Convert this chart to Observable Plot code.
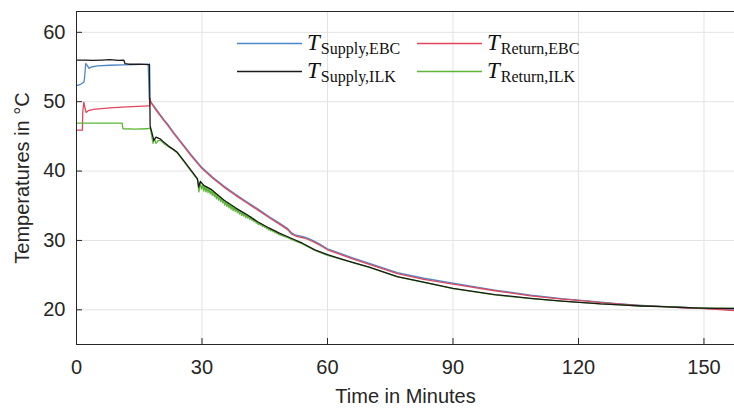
<!DOCTYPE html>
<html><head><meta charset="utf-8">
<script src="https://cdn.jsdelivr.net/npm/d3@7"></script>
<script src="https://cdn.jsdelivr.net/npm/@observablehq/plot@0.6"></script>
<style>body{margin:0;background:#fff;} #chart{position:relative;width:734px;height:408px;}</style>
</head><body><div id="chart"></div>
<script>
const xTicks = [0, 30, 60, 90, 120, 150];
const yTicks = [20, 30, 40, 50, 60];
const xDomain = [0, 157.3];
const yDomain = [15, 63];
const xLabel = "Time in Minutes";
const yLabel = "Temperatures in °C";

const seriesKeys = ["Supply,EBC", "Return,EBC", "Supply,ILK", "Return,ILK"];
const seriesColors = ["#4a88c8", "#e0475d", "#1a1a1a", "#5cb536"];

const supplyEbcTime = [0, 1.0, 1.8, 1.95, 2.2, 2.6, 3.0, 3.5, 5, 8, 11, 14, 17.0, 17.15, 17.4, 17.8, 19, 20, 21, 22, 23.3, 25, 27.4, 30, 32.5, 35.3, 38, 40.5, 43.3, 46, 48.5, 50.4, 51.5, 52.5, 54.4, 55.5, 56.8, 58.5, 60, 63.2, 66, 70, 76.7, 83, 90, 100, 108.6, 116, 122, 125.3, 130, 135, 140, 145, 149, 153, 157.3];
const supplyEbcTemp = [52.3, 52.5, 52.85, 53.6, 55.5, 55.2, 54.8, 55.0, 55.15, 55.25, 55.3, 55.35, 55.4, 55.3, 50.3, 49.95, 48.95, 48.15, 47.35, 46.6, 45.5, 44.2, 42.35, 40.5, 39.15, 37.8, 36.65, 35.65, 34.55, 33.45, 32.5, 31.75, 31.05, 30.75, 30.5, 30.25, 29.9, 29.35, 28.8, 28.1, 27.5, 26.7, 25.35, 24.55, 23.85, 22.85, 22.1, 21.6, 21.3, 21.1, 20.85, 20.65, 20.5, 20.35, 20.25, 20.1, 19.98];

const returnEbcTime = [0, 1.4, 1.5, 1.75, 2.0, 2.3, 2.8, 4, 8, 12, 17.3, 17.45, 17.55, 17.8, 19, 20, 21, 22, 23.3, 25, 27.4, 30, 32.5, 35.3, 38, 40.5, 43.3, 46, 48.5, 50.4, 51.5, 52.5, 54.4, 55.5, 56.8, 58.5, 60, 63.2, 66, 70, 76.7, 83, 90, 100, 108.6, 116, 122, 125.3, 130, 135, 140, 145, 149, 153, 157.3];
const returnEbcTemp = [45.9, 45.9, 48.5, 49.95, 49.2, 48.45, 48.7, 48.9, 49.1, 49.25, 49.4, 49.4, 50.5, 49.85, 48.8, 48.0, 47.2, 46.45, 45.35, 44.05, 42.2, 40.35, 39.0, 37.65, 36.5, 35.5, 34.4, 33.3, 32.35, 31.6, 30.9, 30.6, 30.35, 30.1, 29.75, 29.2, 28.65, 27.95, 27.35, 26.55, 25.2, 24.4, 23.7, 22.75, 22.0, 21.55, 21.25, 21.05, 20.8, 20.6, 20.45, 20.3, 20.2, 20.05, 19.9];

const supplyIlkTime = [0, 2, 4, 6, 8, 10, 11.3, 11.6, 12.5, 15, 17.2, 17.45, 17.6, 18.0, 18.5, 19.0, 20.1, 21, 22, 23, 24.1, 25.5, 27.4, 28.9, 29.2, 29.6, 30.5, 32.1, 33.5, 35.3, 38, 40.5, 43.3, 46, 48.5, 51.2, 54, 57, 60, 63.2, 66, 70, 76.7, 83, 90, 100, 108.6, 116, 122, 125.3, 130, 135, 140, 145, 149, 153, 157.3];
const supplyIlkTemp = [56.0, 56.0, 55.95, 56.0, 56.05, 55.95, 56.0, 55.5, 55.4, 55.4, 55.35, 55.4, 46.5, 45.6, 44.4, 44.9, 44.6, 44.1, 43.6, 43.2, 42.7, 41.6, 40.1, 38.9, 37.7, 38.5, 37.9, 37.4, 36.7, 35.8, 34.7, 33.8, 32.7, 31.8, 31.05, 30.35, 29.6, 28.65, 27.95, 27.35, 26.85, 26.15, 24.8, 24.0, 23.1, 22.2, 21.65, 21.25, 21.0, 20.85, 20.7, 20.55, 20.45, 20.33, 20.25, 20.22, 20.2];

const returnIlkTime = [0, 5, 10.9, 11.1, 14, 17.0, 17.4, 17.7, 18.0, 18.3,
  18.6, 19.0, 19.5, 20.1, 21, 22, 23, 24.1, 25.5, 27.4,
  28.5, 29.0, 29.25, 29.6, 29.9, 30.2, 30.45, 30.7, 30.95, 31.2,
  31.45, 31.7, 31.95, 32.2, 32.45, 32.7, 32.95, 33.2, 33.45, 33.7,
  33.95, 34.2, 34.45, 34.7, 34.95, 35.2, 35.45, 35.7, 35.95, 36.2,
  36.45, 36.7, 36.95, 37.2, 37.45, 37.7, 37.95, 38.2, 38.45, 38.7,
  38.95, 39.2, 39.45, 39.7, 39.95, 40.2, 40.45, 40.7, 40.95, 41.2,
  41.45, 41.7, 41.95, 42.2, 42.45, 42.7, 42.95, 43.2, 43.45, 43.7,
  43.95, 44.2, 44.45, 44.7, 44.95, 45.2, 45.45, 45.7, 45.95, 46.2,
  46.45, 46.7, 46.95, 47.2, 47.45, 47.7, 47.95, 48.2, 48.45, 48.7,
  48.95, 49.2, 49.45, 49.7, 50.0, 50.5, 51.2, 54, 57, 60,
  63.2, 66, 70, 76.7, 83, 90, 100, 108.6, 116, 122,
  125.3, 130, 135, 140, 145, 149, 153, 157.3];
const returnIlkTemp = [46.9, 46.9, 46.9, 46.1, 46.05, 46.1, 46.2, 46.0, 45.0, 44.0,
  44.7, 44.0, 44.4, 44.4, 43.9, 43.5, 43.1, 42.6, 41.5, 40.0,
  39.1, 38.7, 37.0, 38.3, 37.4, 38.0, 37.1, 37.8, 37.0, 37.7,
  36.9, 37.5, 36.7, 37.3, 36.5, 37.1, 36.3, 36.8, 36.0, 36.6,
  35.8, 36.3, 35.6, 36.1, 35.4, 35.8, 35.1, 35.6, 34.9, 35.4,
  34.7, 35.2, 34.5, 35.0, 34.3, 34.8, 34.2, 34.6, 34.0, 34.4,
  33.8, 34.2, 33.6, 34.0, 33.5, 33.9, 33.3, 33.7, 33.2, 33.5,
  33.0, 33.4, 32.9, 33.1, 32.7, 32.9, 32.5, 32.7, 32.3, 32.5,
  32.2, 32.4, 32.0, 32.2, 31.9, 32.0, 31.7, 31.8, 31.5, 31.7,
  31.4, 31.5, 31.3, 31.4, 31.1, 31.2, 31.0, 31.0, 30.8, 30.9,
  30.7, 30.8, 30.6, 30.6, 30.5, 30.4, 30.2, 29.5, 28.55, 27.85,
  27.3, 26.8, 26.1, 24.75, 23.95, 23.05, 22.15, 21.6, 21.25, 21.0,
  20.85, 20.7, 20.55, 20.45, 20.35, 20.28, 20.25, 20.22];

function zip(times, temps, key) {
  return times.map((t, i) => ({t, v: temps[i], key}));
}
const seriesData = [
  zip(supplyEbcTime, supplyEbcTemp, seriesKeys[0]),
  zip(returnEbcTime, returnEbcTemp, seriesKeys[1]),
  zip(returnIlkTime, returnIlkTemp, seriesKeys[3]),
  zip(supplyIlkTime, supplyIlkTemp, seriesKeys[2])
];
const colorOf = Object.fromEntries(seriesKeys.map((k, i) => [k, seriesColors[i]]));

const axisColor = "#262626";
const gridColor = "#e3e3e3";

const plot = Plot.plot({
  width: 734,
  height: 408,
  marginLeft: 76,
  marginRight: 0,
  marginTop: 11,
  marginBottom: 64,
  style: {fontFamily: "'Liberation Sans', Arial, sans-serif", fontSize: "20px", color: axisColor, background: "#fff"},
  x: {domain: xDomain},
  y: {domain: yDomain},
  marks: [
    Plot.gridX(xTicks, {stroke: gridColor, strokeOpacity: 1}),
    Plot.gridY(yTicks, {stroke: gridColor, strokeOpacity: 1}),
    ...seriesData.map(d => Plot.line(d, {x: "t", y: "v", stroke: colorOf[d[0].key], strokeWidth: 1.3, clip: true})),
    Plot.ruleY([yDomain[0]], {stroke: axisColor}),
    Plot.ruleY([yDomain[1]], {stroke: axisColor}),
    Plot.ruleX([xDomain[0]], {stroke: axisColor}),
    Plot.axisX(xTicks, {tickSize: 6, dy: -6, tickFormat: () => "", label: null, stroke: axisColor}),
    Plot.axisY(yTicks, {tickSize: 6, dx: 6, tickFormat: () => "", label: null, stroke: axisColor}),
    Plot.axisX(xTicks, {tickSize: 0, tickPadding: 15, fill: axisColor, label: xLabel, labelAnchor: "center", labelArrow: "none", labelOffset: 58}),
    Plot.axisY(yTicks, {tickSize: 0, tickPadding: 11, fill: axisColor, label: yLabel, labelAnchor: "center", labelArrow: "none", labelOffset: 62})
  ]
});
document.getElementById("chart").appendChild(plot);

// Legend (LaTeX-like labels), drawn into the SVG
const legendItems = [
  {key: seriesKeys[0], col: 0, row: 0},
  {key: seriesKeys[1], col: 1, row: 0},
  {key: seriesKeys[2], col: 0, row: 1},
  {key: seriesKeys[3], col: 1, row: 1}
];
const svg = d3.select(plot.tagName.toLowerCase() === "svg" ? plot : plot.querySelector("svg"));
const lg = svg.append("g").attr("class", "legend").attr("text-anchor", "start");
const colX = [237, 417], rowY = [50, 78];
legendItems.forEach(it => {
  const x0 = colX[it.col], yb = rowY[it.row];
  lg.append("line").attr("x1", x0).attr("x2", x0 + 65).attr("y1", yb - 6.5).attr("y2", yb - 6.5)
    .attr("stroke", colorOf[it.key]).attr("stroke-width", 1.5);
  const t = lg.append("text").attr("x", x0 + 70).attr("y", yb).attr("text-anchor", "start")
    .attr("fill", "#111").style("font-family", "'Liberation Serif', 'Times New Roman', serif");
  t.append("tspan").text("T").style("font-style", "italic").style("font-size", "23px");
  t.append("tspan").text(it.key).attr("dy", 3.5).attr("dx", 1).style("font-size", "16px");
});
</script>
</body></html>
